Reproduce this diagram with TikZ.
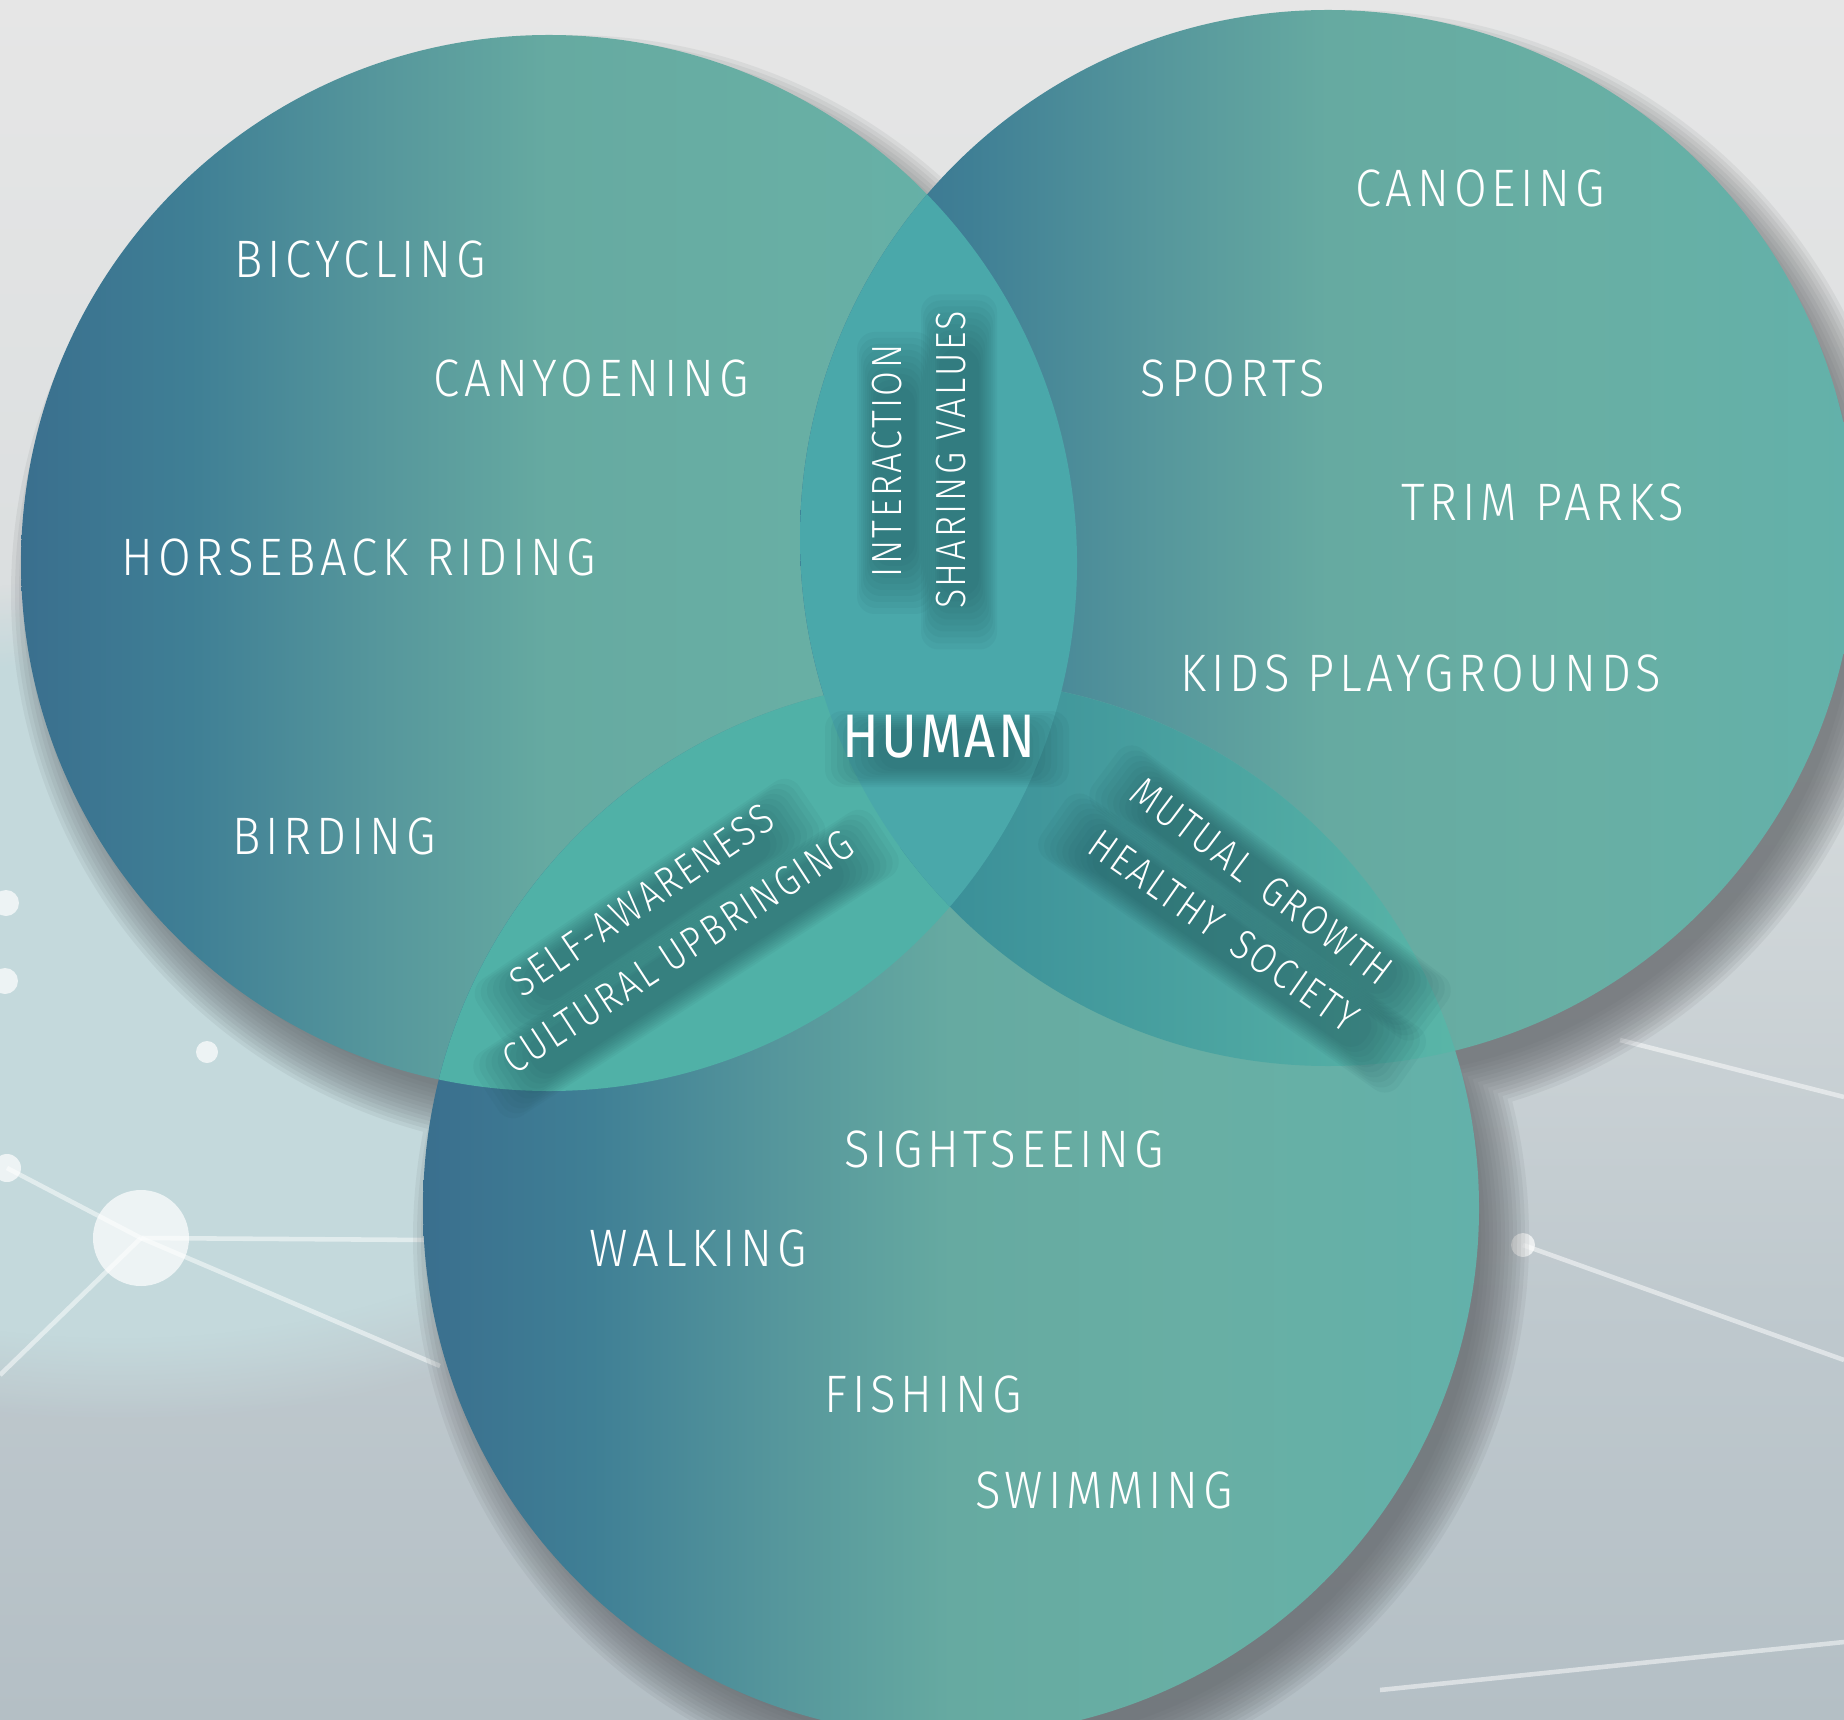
\documentclass[tikz,border=0pt]{standalone}
\usepackage{fontspec}
\setmainfont{Fira Sans Light}[FakeStretch=0.9, LetterSpace=9]
\newfontfamily\corefamily{Fira Sans Light}[FakeStretch=0.85, LetterSpace=6]
\newfontfamily\humanfont{Fira Sans}[FakeStretch=0.88, LetterSpace=4]
\usetikzlibrary{calc,fadings}

\definecolor{bgtop}{HTML}{E6E6E6}
\definecolor{bgmid}{HTML}{DADEDF}
\definecolor{bgband}{HTML}{C4D9DC}
\definecolor{bglow}{HTML}{BFC9CE}
\definecolor{bgbot}{HTML}{B4BFC5}
\definecolor{shadowgrey}{HTML}{5E6266}
\definecolor{vennA}{HTML}{3A6F8E}
\definecolor{vennB}{HTML}{3F7F95}
\definecolor{vennC}{HTML}{56979C}
\definecolor{vennD}{HTML}{66AAA1}
\definecolor{vennE}{HTML}{68AFA4}
\definecolor{vennF}{HTML}{63B1AA}
\definecolor{lensLR}{HTML}{4AA8AA}
\definecolor{lensLB}{HTML}{50B1A7}
\definecolor{lensRBa}{HTML}{388C97}
\definecolor{lensRBb}{HTML}{5CB9A9}
\definecolor{shadowteal}{HTML}{1D4F55}

\pgfdeclarehorizontalshading{venngrad}{100bp}{%
  color(0bp)=(vennA); color(25bp)=(vennA); color(33bp)=(vennB);
  color(42bp)=(vennC); color(50bp)=(vennD); color(62bp)=(vennE);
  color(75bp)=(vennF); color(100bp)=(vennF)}

% name, position, angle, font style, shadow length, text
\newcommand{\coretext}[6]{%
  \begin{scope}[shift={($(#2)+(8,12)$)}, rotate=#3]
    \foreach \k in {0,...,9}
      \fill[shadowteal, opacity=.06, rounded corners=5pt]
        ({-#5/2-30+6*\k},{-38+2*\k}) rectangle ({#5/2+30-6*\k},{38-2*\k});
  \end{scope}
  \node[core, #4, rotate=#3] (#1) at (#2) {#6};
}

\begin{document}
\begin{tikzpicture}[x=0.1mm, y=-0.1mm,
    item/.style={text=white, inner sep=0pt, font=\fontsize{15}{18}\selectfont},
    core/.style={text=white, inner sep=0pt},
    corefont/.style={font=\corefamily\fontsize{12}{14}\selectfont},
    bigfont/.style={font=\humanfont\fontsize{17.5}{20}\selectfont},
    net/.style={white, opacity=.5, line width=1.3pt},
    netdot/.style={circle, fill=white, opacity=.7, inner sep=0pt}]
  \useasboundingbox (0,0) rectangle (1844,1720);
  \clip (0,0) rectangle (1844,1720);

  % paper background
  \shade[top color=bgtop, bottom color=bgmid] (0,0) rectangle (1844,640);
  \shade[top color=bgmid, middle color=bglow, bottom color=bglow] (0,640) rectangle (1844,1300);
  \shade[top color=bglow, bottom color=bgbot] (0,1300) rectangle (1844,1720);
  \fill[bgband, path fading=circle with fuzzy edge 20 percent] (120,1000) ellipse (720 and 420);

  % network in the background
  \coordinate (hub) at (141,1238);
  \coordinate (n1) at (7,1168);
  \coordinate (n2) at (207,1052);
  \coordinate (n3) at (5,981);
  \coordinate (n4) at (6,903);
  \coordinate (e1) at (430,1240);
  \coordinate (e2) at (440,1366);
  \coordinate (e3) at (0,1375);
  \coordinate (m1) at (1523,1245);
  \coordinate (m2) at (1844,1360);
  \coordinate (m3) at (1620,1040);
  \coordinate (m4) at (1844,1097);
  \coordinate (m5) at (1380,1690);
  \coordinate (m6) at (1844,1642);
  \draw[net] (n1) -- (hub) -- (e1);
  \draw[net] (hub) -- (e2);
  \draw[net] (hub) -- (e3);
  \draw[net] (m1) -- (m2);
  \draw[net] (m3) -- (m4);
  \draw[net] (m5) -- (m6);
  \node[netdot, minimum size=9.6mm] (hubdot) at (hub) {};
  \node[netdot, minimum size=2.8mm] (dot1) at (n1) {};
  \node[netdot, minimum size=2.2mm] (dot2) at (n2) {};
  \node[netdot, minimum size=2.6mm] (dot3) at (n3) {};
  \node[netdot, minimum size=2.6mm] (dot4) at (n4) {};
  \node[netdot, minimum size=2.4mm] (dot5) at (m1) {};

  % the three circles
  \coordinate (L) at (549,563);
  \coordinate (R) at (1328,538);
  \coordinate (B) at (951,1208);

  \foreach \s in {0,...,12}
    \fill[shadowgrey, opacity=.09]
      ($(L)+(20,30)$) circle ({558-4*\s})
      ($(R)+(20,30)$) circle ({558-4*\s})
      ($(B)+(20,30)$) circle ({558-4*\s});

  \shade[shading=venngrad] (L) circle (528);
  \shade[shading=venngrad] (R) circle (528);
  \shade[shading=venngrad] (B) circle (528);

  \begin{scope}
    \clip (L) circle (528);
    \fill[lensLB] (B) circle (528);
  \end{scope}
  \begin{scope}
    \clip (R) circle (528);
    \clip (B) circle (528);
    \shade[left color=lensRBa, right color=lensRBb] (900,600) rectangle (1500,1100);
  \end{scope}
  \begin{scope}
    \clip (L) circle (528);
    \fill[lensLR] (R) circle (528);
  \end{scope}

  % activities
  \node[item] (bicycling) at (360,259) {BICYCLING};
  \node[item] (canyoening) at (591,378) {CANYOENING};
  \node[item] (horseback) at (359,557) {HORSEBACK RIDING};
  \node[item] (birding) at (334,836) {BIRDING};
  \node[item] (canoeing) at (1480,188) {CANOEING};
  \node[item] (sports) at (1233,378) {SPORTS};
  \node[item] (trimparks) at (1543,502) {TRIM PARKS};
  \node[item] (kids) at (1421,673) {KIDS PLAYGROUNDS};
  \node[item] (sightseeing) at (1004,1149) {SIGHTSEEING};
  \node[item] (walking) at (698,1248) {WALKING};
  \node[item] (fishing) at (923,1394) {FISHING};
  \node[item] (swimming) at (1104,1490) {SWIMMING};

  % overlaps
  \coretext{human}{939,737}{0}{bigfont}{184}{HUMAN}
  \coretext{interaction}{887,461}{90}{corefont}{222}{INTERACTION}
  \coretext{sharing}{951,460}{90}{corefont}{295}{SHARING VALUES}
  \coretext{selfaware}{642,900}{34}{corefont}{328}{SELF-AWARENESS}
  \coretext{cultural}{678,952}{33}{corefont}{414}{CULTURAL UPBRINGING}
  \coretext{mutual}{1262,881}{-37}{corefont}{353}{MUTUAL\enspace GROWTH}
  \coretext{healthy}{1224,931}{-35}{corefont}{377}{HEALTHY\enspace SOCIETY}
\end{tikzpicture}
\end{document}
